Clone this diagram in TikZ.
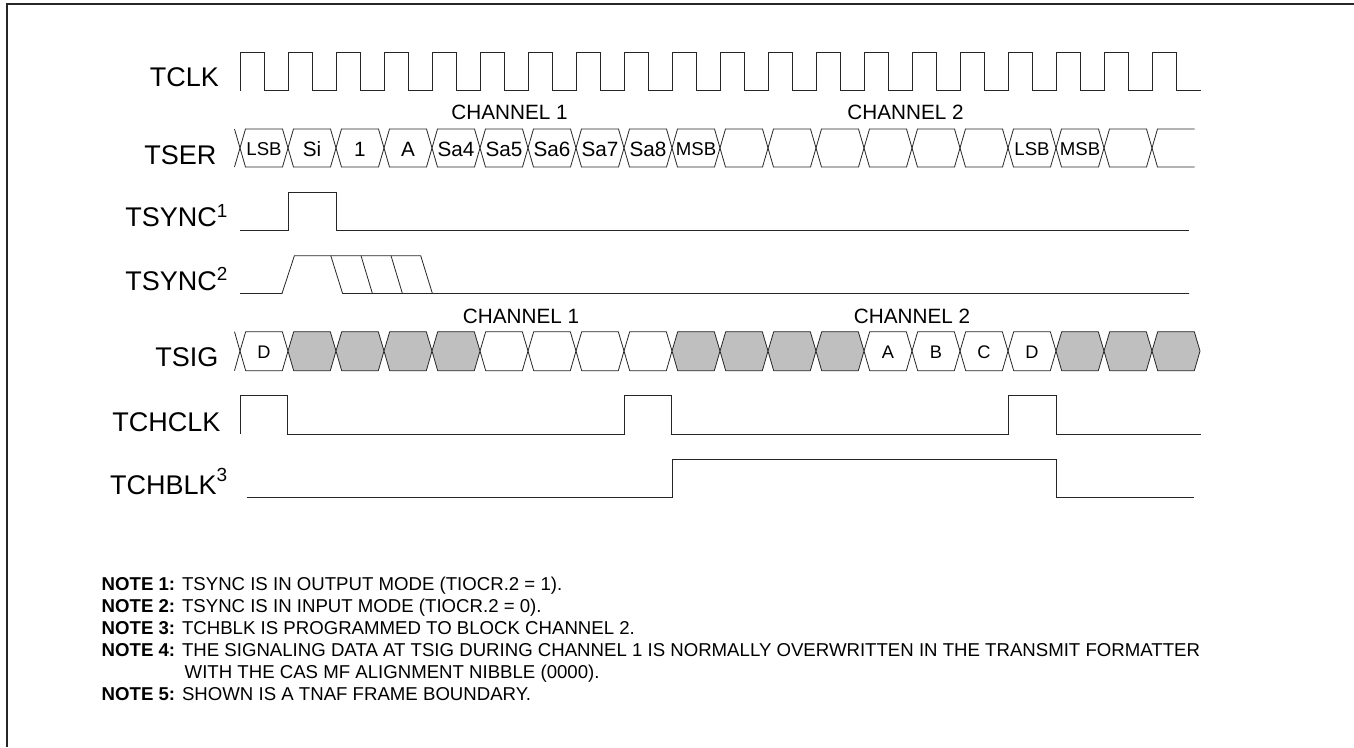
\documentclass[tikz,border=0pt]{standalone}
\usepackage{fontspec}
\setmainfont{Liberation Sans}
\usepackage{tikz}
\usetikzlibrary{positioning}

\tikzset{
	sig/.style={font=\fontsize{27}{30}\selectfont, anchor=base east, inner sep=0pt},
	chan/.style={font=\fontsize{20.7}{24}\selectfont, inner sep=0pt},
	cell/.style={font=\fontsize{20.7}{24}\selectfont, inner sep=0pt},
	smallcell/.style={font=\fontsize{18.6}{22}\selectfont, inner sep=0pt},
	sigcell/.style={font=\fontsize{18.2}{22}\selectfont, inner sep=0pt},
	note/.style={font=\fontsize{18.62}{22}\selectfont, anchor=base west, inner sep=0pt},
	wave/.style={draw=black!85, line width=0.8pt, line join=miter},
	graycell/.style={wave, fill=black!25}
}

\begin{document}
\begin{tikzpicture}[x=1pt, y=-1pt]
	\useasboundingbox (0,0) rectangle (1354,747);
	\fill[white] (0,0) rectangle (1354,747);

	% frame
	\draw[black!85, line width=1.6pt] (7,747) -- (7,4) -- (1354,4);

	% labels
	\node[sig] (tclk) at (219,86) {TCLK};
	\node[sig] (tser) at (216.5,164) {TSER};
	\node[sig] (tsync1) at (228,226.7) {TSYNC\textsuperscript{1}};
	\node[sig] (tsync2) at (228,290) {TSYNC\textsuperscript{2}};
	\node[sig] (tsig) at (218.6,366.5) {TSIG};
	\node[sig] (tchclk) at (220.5,431.5) {TCHCLK};
	\node[sig] (tchblk) at (227.5,494) {TCHBLK\raisebox{13pt}{\fontsize{19}{20}\selectfont 3}};

	\node[chan] (ch1a) at (509.5,112) {CHANNEL 1};
	\node[chan] (ch2a) at (905.5,112) {CHANNEL 2};
	\node[chan] (ch1b) at (521,316) {CHANNEL 1};
	\node[chan] (ch2b) at (912,316) {CHANNEL 2};

	% TCLK
	\draw[wave] (240,90.6) -- (240,52.3)
		\foreach \k in {0,...,18} { -- ({240+48*\k+24},52.3) -- ({240+48*\k+24},90.6) -- ({240+48*\k+48},90.6) -- ({240+48*\k+48},52.3) }
		-- (1176,52.3) -- (1176,90.6) -- (1201,90.6);

	% TSER
	\foreach \k/\txt/\sty in {0/LSB/smallcell,1/Si/cell,2/1/cell,3/A/cell,4/Sa4/cell,5/Sa5/cell,6/Sa6/cell,7/Sa7/cell,8/Sa8/cell,9/MSB/smallcell,10//cell,11//cell,12//cell,13//cell,14//cell,15//cell,16/LSB/smallcell,17/MSB/smallcell,18//cell} {
		\draw[wave] ({240+48*\k},148) -- ({245.5+48*\k},129) -- ({282.5+48*\k},129) -- ({288+48*\k},148)
			-- ({282.5+48*\k},167) -- ({245.5+48*\k},167) -- cycle;
		\node[\sty] (ser\k) at ({264+48*\k},149.5) {\txt};
	}
	\draw[wave] (234.5,129) -- (240,148) -- (234.5,167);
	\draw[wave] (1194.5,129) -- (1157.5,129) -- (1152,148) -- (1157.5,167) -- (1194.5,167);

	% TSYNC
	\draw[wave] (240,230) -- (288,230) -- (288,192.3) -- (336,192.3) -- (336,230) -- (1188.6,230);
	\draw[wave] (240,293.5) -- (282,293.5) -- (294.4,255.7) -- (420.7,255.7) -- (432.4,293.5);
	\draw[wave] (330.8,255.7) -- (342.6,293.5) -- (1189,293.5);
	\draw[wave] (361,255.7) -- (372.4,293.5);
	\draw[wave] (391,255.7) -- (402.4,293.5);

	% TSIG
	\foreach \k/\txt in {0/D,5/,6/,7/,8/,13/A,14/B,15/C,16/D} {
		\draw[wave] ({240+48*\k},351) -- ({245.7+48*\k},331.7) -- ({282.3+48*\k},331.7) -- ({288+48*\k},351)
			-- ({282.3+48*\k},370.7) -- ({245.7+48*\k},370.7) -- cycle;
		\node[sigcell] (sig\k) at ({264+48*\k},352) {\txt};
	}
	\foreach \k in {1,2,3,4,9,10,11,12,17,18,19} {
		\draw[graycell] ({240+48*\k},351) -- ({245.7+48*\k},331.7) -- ({282.3+48*\k},331.7) -- ({288+48*\k},351)
			-- ({282.3+48*\k},370.7) -- ({245.7+48*\k},370.7) -- cycle;
	}
	\draw[wave] (234.5,331.7) -- (240,351) -- (234.5,370.7);

	% TCHCLK
	\draw[wave] (240,434) -- (240,395.3) -- (287.7,395.3) -- (287.7,434) -- (624.3,434) -- (624.3,395.3)
		-- (671.6,395.3) -- (671.6,434) -- (1008,434) -- (1008,395.3) -- (1056,395.3) -- (1056,434) -- (1200.5,434);

	% TCHBLK
	\draw[wave] (246.5,497.3) -- (672.5,497.3) -- (672.5,459.3) -- (1056,459.3) -- (1056,497.3) -- (1194,497.3);

	% notes
	\node[note] (n1) at (101.5,590.5) {\textbf{NOTE 1:} TSYNC IS IN OUTPUT MODE (TIOCR.2 = 1).};
	\node[note] (n2) at (101.5,612.5) {\textbf{NOTE 2:} TSYNC IS IN INPUT MODE (TIOCR.2 = 0).};
	\node[note] (n3) at (101.5,634.5) {\textbf{NOTE 3:} TCHBLK IS PROGRAMMED TO BLOCK CHANNEL 2.};
	\node[note] (n4) at (101.5,656.5) {\textbf{NOTE 4:} THE SIGNALING DATA AT TSIG DURING CHANNEL 1 IS NORMALLY OVERWRITTEN IN THE TRANSMIT FORMATTER};
	\node[note] (n4b) at (184.5,678.5) {WITH THE CAS MF ALIGNMENT NIBBLE (0000).};
	\node[note] (n5) at (101.5,700.5) {\textbf{NOTE 5:} SHOWN IS A TNAF FRAME BOUNDARY.};

\end{tikzpicture}
\end{document}
